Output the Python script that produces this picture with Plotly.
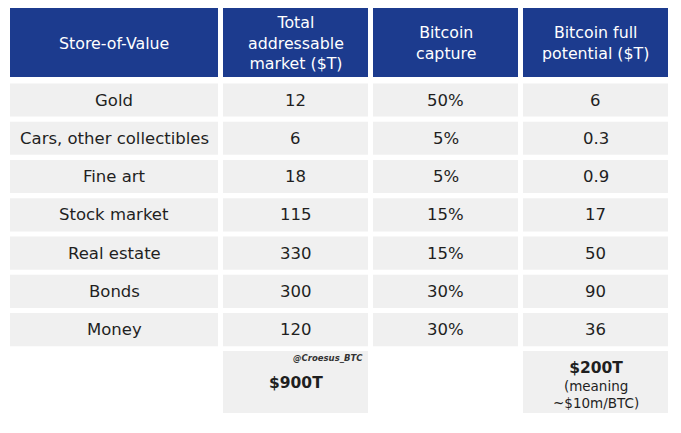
import plotly.graph_objects as go

# ---- data ----
headers = ["Store-of-Value", "Total<br>addressable<br>market ($T)", "Bitcoin<br>capture", "Bitcoin full<br>potential ($T)"]
store_of_value = ["Gold", "Cars, other collectibles", "Fine art", "Stock market", "Real estate", "Bonds", "Money"]
tam = [12, 6, 18, 115, 330, 300, 120]
capture_pct = [50, 5, 5, 15, 15, 30, 30]
potential = [6, 0.3, 0.9, 17, 50, 90, 36]
tam_total = "$900T"
potential_total = "$200T"
potential_note = "(meaning<br>~$10m/BTC)"
credit = "@Croesus_BTC"

# ---- layout constants (page-pixel-like axis units) ----
W, H = 681, 433
OFF = 8  # page body margin
col_edges = [(10, 218), (223, 368), (373, 518), (523, 668)]
header_top, header_bot = 7, 77
row_top0, row_pitch, row_h = 83.4, 38.26, 33.2
footer_top, footer_bot = 351, 413
HEADER_BG = "#1c3b8e"
CELL_BG = "#f0f0f0"
FONT = "DejaVu Sans"
TXT = "#1f1f1f"

shapes = []
annotations = []

def cell(x0, x1, y0, y1, color):
    shapes.append(dict(type="rect", xref="x", yref="y", x0=x0, x1=x1, y0=y0, y1=y1,
                       fillcolor=color, line=dict(width=0), layer="below"))

def text(x, y, s, size=17, color=TXT, **kw):
    annotations.append(dict(x=x, y=y, xref="x", yref="y", text=s, showarrow=False,
                            font=dict(family=FONT, size=size, color=color),
                            xanchor="center", yanchor="middle", **kw))

# header
for (x0, x1), h in zip(col_edges, headers):
    cell(x0, x1, header_top, header_bot, HEADER_BG)
    text((x0 + x1) / 2, (header_top + header_bot) / 2 + 1, h, size=15.8, color="white")

# body
columns = [
    store_of_value,
    [f"{v:g}" for v in tam],
    [f"{v:g}%" for v in capture_pct],
    [f"{v:g}" for v in potential],
]
for i in range(len(store_of_value)):
    y0 = row_top0 + i * row_pitch
    y1 = y0 + row_h
    for (x0, x1), col in zip(col_edges, columns):
        cell(x0, x1, y0, y1, CELL_BG)
        text((x0 + x1) / 2, (y0 + y1) / 2, col[i], size=16.5)

# footer
for ci in (1, 3):
    x0, x1 = col_edges[ci]
    cell(x0, x1, footer_top, footer_bot, CELL_BG)

x0, x1 = col_edges[1]
text((x0 + x1) / 2, 383, f"<b>{tam_total}</b>", size=15.5)
annotations.append(dict(x=x1 - 3, y=358, xref="x", yref="y", text=f"<i><b>{credit}</b></i>",
                        showarrow=False, xanchor="right", yanchor="middle",
                        font=dict(family=FONT, size=8.5, color="#333333")))
x0, x1 = col_edges[3]
text((x0 + x1) / 2, 384.5,
     f"<span style='font-size:15.5px'><b>{potential_total}</b></span><br>{potential_note}",
     size=13.5)

fig = go.Figure()
fig.update_layout(
    width=W, height=H,
    margin=dict(l=0, r=0, t=0, b=0),
    paper_bgcolor="white", plot_bgcolor="white",
    xaxis=dict(range=[OFF, W + OFF], visible=False, fixedrange=True),
    yaxis=dict(range=[H + OFF, OFF], visible=False, fixedrange=True),
    shapes=shapes, annotations=annotations,
    showlegend=False,
)
fig.write_html("out.html")
